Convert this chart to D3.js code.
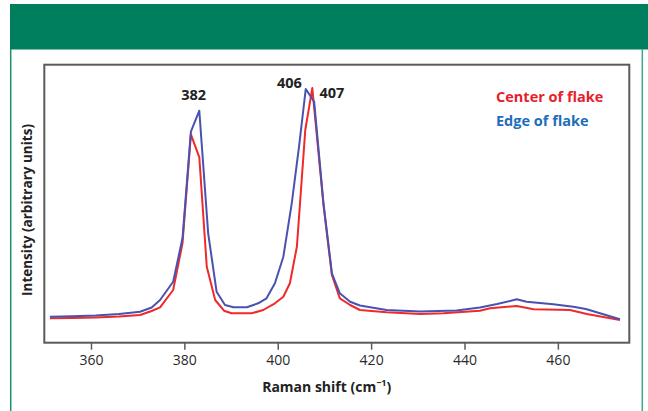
<!DOCTYPE html>
<html>
<head>
<meta charset="utf-8">
<script src="https://cdn.jsdelivr.net/npm/d3@7"></script>
<style>
  html, body { margin: 0; padding: 0; background: #fff; }
  svg { display: block; }
  text { font-family: "Open Sans", Lato, sans-serif; }
</style>
</head>
<body>
<svg id="chart" width="648" height="411"></svg>
<script>
// Raman spectra of a MoS2-type flake: centre vs edge
const centerShift = [351.2, 356, 361, 366, 370.5, 373, 374.8, 377.6, 379.6, 381.4, 383.2, 384.8, 386.6, 388.5, 390.1, 394.4, 396.9, 399.4, 401.2, 402.6, 404.1, 405.9, 407.4, 409.8, 411.6, 413.3, 415.5, 417.6, 423.3, 430.5, 435.5, 443.3, 445.5, 451.2, 454.8, 462.6, 466.2, 473.3];
const centerIntensity = [8.78, 8.88, 9.06, 9.42, 9.96, 11.40, 12.73, 18.96, 35.75, 74.96, 66.69, 27.34, 15.36, 11.51, 10.58, 10.58, 11.76, 14.17, 16.55, 21.37, 34.53, 76.51, 91.6, 49.53, 24.35, 15.97, 13.56, 11.76, 10.93, 10.32, 10.58, 11.51, 12.37, 13.20, 12.01, 11.76, 10.32, 8.17];

const edgeShift = [351.2, 356, 361, 366, 370.5, 373, 374.8, 377.6, 379.6, 381.4, 383.2, 385.1, 386.9, 388.7, 390.5, 393.4, 395.8, 397.6, 399.4, 401.2, 403.0, 404.6, 406.0, 407.8, 409.8, 411.6, 413.3, 415.5, 417.6, 423.3, 430.5, 438.3, 443.3, 447, 451.2, 453.3, 459, 463.3, 466, 473.3];
const edgeIntensity = [9.35, 9.50, 9.78, 10.32, 11.15, 12.66, 15.36, 21.94, 37.55, 75.9, 83.45, 39.35, 18.34, 13.56, 12.73, 12.73, 14.17, 15.97, 21.37, 30.93, 50.14, 71.11, 91.26, 86.69, 50.14, 24.96, 17.77, 14.75, 13.38, 11.76, 11.22, 11.58, 12.66, 13.92, 15.61, 14.75, 13.81, 12.95, 12.12, 8.42];

const xTicks = [360, 380, 400, 420, 440, 460];
const peakLabels = [382, 406, 407];
const seriesNames = ["Center of flake", "Edge of flake"];

const svg = d3.select("#chart");
const W = 648, H = 411;
const box = { left: 44.3, right: 629.3, top: 64.7, bottom: 342.7 };

// page frame: green header band and thin side rules
svg.append("rect").attr("x", 10).attr("y", 4).attr("width", W - 10).attr("height", 45.5).attr("fill", "#007f5e");
svg.append("line").attr("x1", 10.7).attr("x2", 10.7).attr("y1", 49).attr("y2", H)
  .attr("stroke", "#1e8f6e").attr("stroke-width", 1.5);
svg.append("line").attr("x1", 642.3).attr("x2", 642.3).attr("y1", 49).attr("y2", H)
  .attr("stroke", "#3da88a").attr("stroke-width", 1.5);

const x = d3.scaleLinear().domain([350, 475.3]).range([box.left, box.right]);
const y = d3.scaleLinear().domain([0, 100]).range([box.bottom, box.top]);

// plot frame
svg.append("rect")
  .attr("x", box.left).attr("y", box.top)
  .attr("width", box.right - box.left).attr("height", box.bottom - box.top)
  .attr("fill", "none").attr("stroke", "#5a5a5a").attr("stroke-width", 2);

// x axis
const xAxis = d3.axisBottom(x).tickValues(xTicks).tickSize(7).tickPadding(5).tickFormat(d3.format("d"));
const gx = svg.append("g").attr("transform", `translate(0,${box.bottom})`).call(xAxis);
gx.select(".domain").remove();
gx.selectAll(".tick line").attr("stroke", "#5a5a5a").attr("stroke-width", 1.5);
gx.selectAll(".tick text").attr("font-size", 14).attr("fill", "#2a2a2a")
  .style("font-family", "'Open Sans', Lato, sans-serif");

// axis titles
const xt = svg.append("text").attr("x", 326.7).attr("y", 392).attr("text-anchor", "middle")
  .attr("font-size", 14).attr("font-weight", "bold").attr("fill", "#222");
xt.append("tspan").text("Raman shift (cm");
xt.append("tspan").attr("font-size", 9).attr("dy", -6).text("\u22121");
xt.append("tspan").attr("dy", 6).text(")");

svg.append("text")
  .attr("transform", "translate(32,210) rotate(-90)")
  .attr("text-anchor", "middle").attr("font-size", 13.5).attr("font-weight", "bold").attr("fill", "#222")
  .text("Intensity (arbitrary units)");

// spectra
const line = d3.line().x(d => x(d[0])).y(d => y(d[1]));
const centerData = d3.zip(centerShift, centerIntensity);
const edgeData = d3.zip(edgeShift, edgeIntensity);

svg.append("path").datum(centerData).attr("d", line)
  .attr("fill", "none").attr("stroke", "#ee2a2a").attr("stroke-width", 2).attr("stroke-linejoin", "round");
svg.append("path").datum(edgeData).attr("d", line)
  .attr("fill", "none").attr("stroke", "#4a52b0").attr("stroke-width", 2).attr("stroke-linejoin", "round");

// peak labels
const labelStyle = sel => sel.attr("font-size", 14.5).attr("font-weight", "bold").attr("fill", "#222");
svg.append("text").attr("x", x(peakLabels[0])).attr("y", 100).attr("text-anchor", "middle")
  .call(labelStyle).text(peakLabels[0]);
svg.append("text").attr("x", x(peakLabels[1]) - 4).attr("y", 87.5).attr("text-anchor", "end")
  .call(labelStyle).text(peakLabels[1]);
svg.append("text").attr("x", x(peakLabels[2]) + 9).attr("y", 97.5).attr("text-anchor", "start")
  .call(labelStyle).text(peakLabels[2]);

// legend
svg.append("text").attr("x", 496).attr("y", 101.5).attr("font-size", 14.5).attr("font-weight", "bold")
  .attr("fill", "#e8202c").text(seriesNames[0]);
svg.append("text").attr("x", 496).attr("y", 125.5).attr("font-size", 14.5).attr("font-weight", "bold")
  .attr("fill", "#1d6dbb").text(seriesNames[1]);
</script>
</body>
</html>
